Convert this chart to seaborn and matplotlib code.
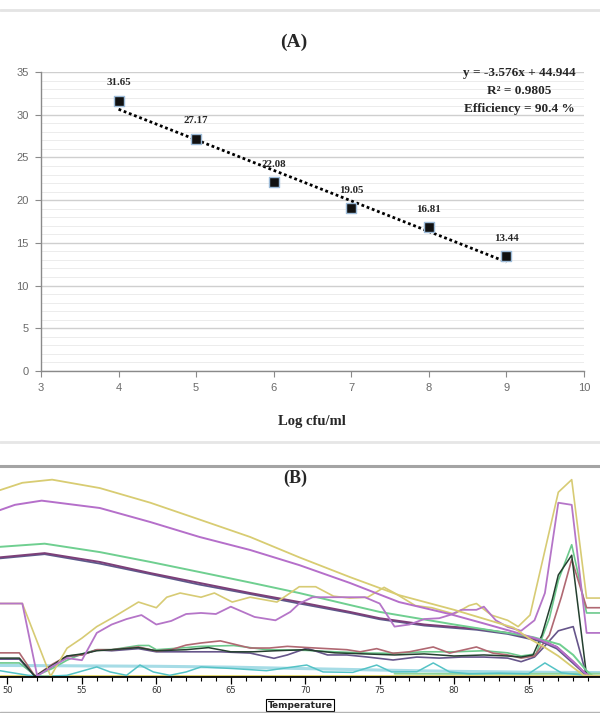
import numpy as np
import pandas as pd
import seaborn as sns
import matplotlib.pyplot as plt
from matplotlib.lines import Line2D
from matplotlib.ticker import MultipleLocator

# ---- (A) standard curve ----
log_cfu = [4, 5, 6, 7, 8, 9]
ct_values = [31.65, 27.17, 22.08, 19.05, 16.81, 13.44]
fit_lines = ["y = -3.576x + 44.944", "R\u00b2 = 0.9805", "Efficiency = 90.4 %"]

# ---- (B) melt curves, temperature / fluorescence ----
yellow_top_t = [49.5, 51, 53, 56.2, 59.6, 62.9, 66.3, 69.6, 73, 76.3, 80, 84, 85, 86, 87, 88, 88.7, 89.8]
yellow_top_v = [89, 92.5, 94, 90, 83, 75, 66.7, 57, 47.6, 39, 32, 23.5, 18.5, 14.5, 10, 4.5, 0.8, 0.5]

yellow_noisy_t = [49.5, 51.0, 52.9, 54, 55, 56, 57, 58.8, 60, 60.7, 61.6, 63, 63.9, 65.1, 66.3, 68.1,
                  69.6, 70.7, 71.9, 73, 74.2, 75.3, 76, 77.4, 78.5, 80, 81, 81.5, 82.5, 83.6, 84.3,
                  85.1, 87, 87.9, 88.9, 89.8]
yellow_noisy_v = [35, 35, 0.3, 13.7, 18.5, 24, 28, 35.7, 33, 38, 40, 38, 40, 35.7, 38, 35.7,
                  43, 43, 38.5, 37.6, 38, 42.7, 40, 34, 33, 30, 34, 35, 29.5, 27, 24,
                  29.5, 88, 94, 37.6, 37.6]

purple_top_t = [49.5, 50.5, 52.3, 56.2, 59.6, 62.9, 66.3, 69.6, 73, 76.3, 79.7, 82, 84, 85.8, 86.9, 88, 88.7, 89.1, 89.8]
purple_top_v = [79.5, 82, 84, 80.5, 73.8, 66.7, 60.5, 53.3, 44.8, 35.7, 30, 25.5, 21.5, 17.6, 14.3, 7.3, 2.4, 0.3, 0.3]

purple_noisy_t = [49.5, 51.0, 52.0, 53, 54, 55, 56, 57, 58, 59, 60, 61, 62, 63, 64, 65, 66.6, 68, 69,
                  69.6, 70.5, 72, 74, 75, 76, 77, 78, 79, 79.7, 80.5, 81.5, 82, 82.8, 83.6, 84.5,
                  85.4, 86.1, 87, 87.9, 88.9, 89.8]
purple_noisy_v = [35, 35, 0.5, 5, 9, 8, 21, 25, 27.6, 29.5, 25, 26.7, 30, 30.5, 30, 33.5, 28.6, 27, 31,
                  35, 38, 38, 38, 35, 24, 25, 27.6, 28, 29.5, 32, 32, 33.5, 27, 23.8, 22,
                  27, 40, 83, 82, 21, 21]

green_top_t = [49.5, 52.5, 56.2, 59.6, 62.9, 66.3, 69.6, 73, 75, 80, 84, 85.3, 87.1, 88, 88.9, 89.3, 89.8]
green_top_v = [62, 63.5, 59.5, 54.8, 50, 45, 40, 34.3, 31, 25, 20.5, 19, 15.5, 10.5, 3, 0.5, 0.5]

dark_top_t = [49.5, 52.5, 56.2, 59.6, 62.9, 66.3, 69.6, 73, 75, 78, 81.5, 83.6, 85.8, 86.9, 88, 88.7, 89.1, 89.8]
dark_top_v = [57, 59, 54.8, 49.5, 44.8, 40, 35.7, 31, 28, 25, 23, 21, 17.6, 14.3, 7.3, 2.4, 0.3, 0.3]
dark_top2_v = [56.5, 58.5, 54, 49, 44, 39.5, 35, 30.5, 27.5, 24.5, 22.5, 20.5, 17, 13.5, 6.5, 2, 0.3, 0.3]

brown_low_t = [49.5, 50.8, 51.85, 53, 54, 55, 56, 57, 58.8, 60, 61, 62, 63, 64.3, 66.3, 67.6, 68.8,
               70.2, 71.5, 72.8, 73.7, 74.8, 75.9, 77, 78.6, 79.7, 81.5, 82.6, 83.6, 84.5, 85.4,
               86.4, 87.2, 87.9, 88.9, 89.8]
brown_low_v = [11.5, 11.5, 0.3, 6, 10, 10.5, 13, 13, 14.3, 12.4, 13, 15.2, 16.2, 17.2, 13.8, 13.8, 14.6,
               14, 13.5, 13, 12, 13.5, 11.3, 12, 14.3, 11.4, 14.3, 11.4, 10.5, 9, 10,
               20, 38, 56, 33, 33]

dark_low_t = [49.5, 50.8, 51.85, 53, 54, 55, 56, 57, 58.8, 60, 62, 64.3, 66.3, 67.9, 68.8, 70.1, 71.5,
              72.8, 74.2, 75.9, 77.5, 79, 80.5, 82, 83.6, 84.5, 85.4, 86, 87, 88, 88.9, 89.8]
dark_low_v = [8.5, 8.5, 0.3, 5, 9.7, 10.5, 12.9, 12.5, 13.5, 12, 12, 12, 11.4, 8.9, 10.5, 13.7, 10.5,
              10.5, 9.5, 8.1, 9.5, 9, 9.5, 9.5, 9, 7.3, 9.5, 14, 22, 24, 0.5, 0.5]

dark_spike_t = [49.5, 50.8, 51.85, 53, 54, 55, 56, 57, 58.8, 60, 62, 63.5, 65, 66.5, 68, 70, 72, 74,
                76, 78, 80, 82, 83.6, 84.5, 85.3, 85.9, 86.6, 87, 87.9, 88.9, 89.8]
dark_spike_v = [9, 9, 0.3, 5.5, 10, 11, 12.5, 13, 14, 12.5, 13, 14, 12, 12, 12.5, 13, 11.5, 11,
                10.5, 11, 10, 10.5, 10, 9.5, 10.5, 20, 37, 48.6, 58, 0.5, 0.5]

green_low_t = [49.5, 50.8, 51.9, 53, 54, 55, 56, 57, 58.8, 59.5, 60, 62, 63, 65.2, 67.4, 70, 72,
               74.2, 76, 78, 80, 82, 83.6, 84.5, 85.5, 86.4, 87, 87.9, 88.9, 89.8]
green_low_v = [6.7, 6.7, 0.5, 4, 8, 11, 13, 13, 15, 15, 13, 14, 14.6, 15, 13, 12.7, 12,
               11.4, 11.3, 12, 12, 12.5, 11.5, 10, 11, 28, 46, 63, 30.5, 30.5]

cyan_flat_t = [49.5, 55, 60, 65, 70, 75, 80, 85, 89.8]
cyan_flat_v = [5.5, 5.3, 5.1, 4.7, 4.0, 3.3, 2.7, 2.3, 2.1]

cyan_noisy_t = [49.5, 50, 51.4, 52.5, 54, 56, 56.9, 58, 58.9, 59.8, 60.9, 62, 63, 65.2, 67.4, 70.1,
                71.2, 73.2, 74.8, 75.8, 77.5, 78.6, 79.7, 81, 83, 85, 86.1, 87.2, 88.5, 89.8]
cyan_noisy_v = [3, 2.4, 0.8, 0.3, 0.8, 4.8, 2.4, 0.8, 5.7, 2.4, 0.8, 2.4, 4.8, 4, 3, 5.7,
                2.4, 2.2, 5.7, 2.4, 2.5, 6.7, 2.4, 1.5, 1.8, 1.5, 6.7, 2, 1, 0.5]

base_t = [49.5, 60, 70, 80, 89.8]
yellow_base_v = [0.6, 0.6, 0.6, 0.6, 0.6]
green_base_t = [76, 80, 85, 89.8]
green_base_v = [1.6, 1.5, 1.5, 1.6]

# name, temps, values, colour, width  (drawing order = back to front)
curves = [
    ("cyan flat", cyan_flat_t, cyan_flat_v, "#a6dce6", 2.2),
    ("yellow base", base_t, yellow_base_v, "#ddd060", 2.0),
    ("green base", green_base_t, green_base_v, "#8fd49a", 1.4),
    ("cyan", cyan_noisy_t, cyan_noisy_v, "#55c3c6", 1.1),
    ("green low", green_low_t, green_low_v, "#6cc98c", 1.2),
    ("dark low", dark_low_t, dark_low_v, "#66558a", 1.2),
    ("brown low", brown_low_t, brown_low_v, "#b06872", 1.2),
    ("dark spike", dark_spike_t, dark_spike_v, "#24402f", 1.1),
    ("dark top 2", dark_top_t, dark_top2_v, "#5d5a8c", 1.3),
    ("dark top", dark_top_t, dark_top_v, "#7d3f78", 1.4),
    ("green top", green_top_t, green_top_v, "#6fcf90", 1.4),
    ("yellow noisy", yellow_noisy_t, yellow_noisy_v, "#d7cb74", 1.2),
    ("purple noisy", purple_noisy_t, purple_noisy_v, "#b575c8", 1.3),
    ("purple top", purple_top_t, purple_top_v, "#b56fca", 1.4),
    ("yellow top", yellow_top_t, yellow_top_v, "#d8cc72", 1.3),
]

sns.set_theme(style="white")
plt.rcParams["font.family"] = ["Liberation Serif", "DejaVu Serif"]

fig = plt.figure(figsize=(6, 7.13), dpi=100)
W, H = 600, 713

# ---------- panel A ----------
ax = fig.add_axes([41 / W, 1 - 371 / H, (584 - 41) / W, (371 - 72) / H])
df_a = pd.DataFrame({"log": log_cfu, "ct": ct_values})

sns.regplot(data=df_a, x="log", y="ct", ax=ax, scatter=False, ci=None,
            line_kws=dict(color="black", ls=(0, (1, 1)), lw=2.0))
sns.scatterplot(data=df_a, x="log", y="ct", ax=ax, marker="s", s=48,
                color="#111111", edgecolor="#9dbbd8", linewidth=1.0, zorder=4)

for xv, yv in zip(log_cfu, ct_values):
    ax.annotate(f"{yv:.2f}", (xv, yv), xytext=(0, 13), textcoords="offset points",
                ha="center", va="center", fontsize=7.8, fontweight="bold")

ax.set_xlim(3, 10)
ax.set_ylim(0, 35)
ax.xaxis.set_major_locator(MultipleLocator(1))
ax.yaxis.set_major_locator(MultipleLocator(5))
ax.yaxis.set_minor_locator(MultipleLocator(1))
ax.grid(True, which="major", axis="y", color="#cfcfcf", lw=1.0)
ax.grid(True, which="minor", axis="y", color="#ececec", lw=0.7)
ax.set_axisbelow(True)
for side in ["top", "right"]:
    ax.spines[side].set_visible(False)
for side in ["left", "bottom"]:
    ax.spines[side].set_color("#8a8a8a")
    ax.spines[side].set_linewidth(1.0)
ax.tick_params(axis="both", which="major", direction="out", length=4, width=0.8,
               color="#8a8a8a", labelsize=8, labelcolor="#6a6a6a", pad=5,
               left=True, bottom=True)
for lab in ax.get_xticklabels() + ax.get_yticklabels():
    lab.set_family("Liberation Sans")
ax.set_xlabel("")
ax.set_ylabel("")

fig.text(294 / W, 1 - 42 / H, "(A)", ha="center", va="center", fontsize=14, fontweight="bold")
fig.text(312 / W, 1 - 421 / H, "Log cfu/ml", ha="center", va="center", fontsize=10.5, fontweight="bold")
for i, line in enumerate(fit_lines):
    fig.text(519 / W, 1 - (73 + 18 * i) / H, line, ha="center", va="center",
             fontsize=9.5, fontweight="bold")

# ---------- panel B ----------
bx = fig.add_axes([0, 1 - 677 / H, 1, (677 - 466) / H])
for name, tt, vv, col, lw in curves:
    sns.lineplot(x=tt, y=vv, ax=bx, color=col, lw=lw, sort=False, estimator=None)

bx.set_xlim(49.5, 89.8)
bx.set_ylim(0, 100.5)
bx.set_yticks([])
bx.xaxis.set_major_locator(MultipleLocator(5))
bx.xaxis.set_minor_locator(MultipleLocator(1))
bx.tick_params(axis="x", which="major", direction="out", length=5, width=0.9, color="black",
               labelsize=6, labelcolor="#333333", pad=1.5, bottom=True)
bx.tick_params(axis="x", which="minor", direction="out", length=3, width=0.8, color="black", bottom=True)
for lab in bx.get_xticklabels():
    lab.set_family("DejaVu Sans")
for side in ["left", "right"]:
    bx.spines[side].set_visible(False)
bx.spines["top"].set_color("#a4a4a4")
bx.spines["top"].set_linewidth(2.2)
bx.spines["bottom"].set_color("black")
bx.spines["bottom"].set_linewidth(1.3)
bx.set_ylabel("")
bx.set_xlabel("Temperature", fontsize=6.5, fontweight="bold", family="DejaVu Sans",
              labelpad=4, bbox=dict(boxstyle="square,pad=0.2", fc="white", ec="black", lw=0.8))
bx.text(295 / W, (677 - 478) / (677 - 466), "(B)", transform=bx.transAxes,
        ha="center", va="center", fontsize=13, fontweight="bold")

# separators of the original screenshot
for py, col, lw in [(10, "#e4e4e4", 2.0), (442, "#e6e6e6", 2.0), (712, "#b4b4b4", 1.0)]:
    fig.add_artist(Line2D([0, 1], [1 - py / H, 1 - py / H], transform=fig.transFigure,
                          color=col, lw=lw))

fig.savefig("out.png", dpi=100)
